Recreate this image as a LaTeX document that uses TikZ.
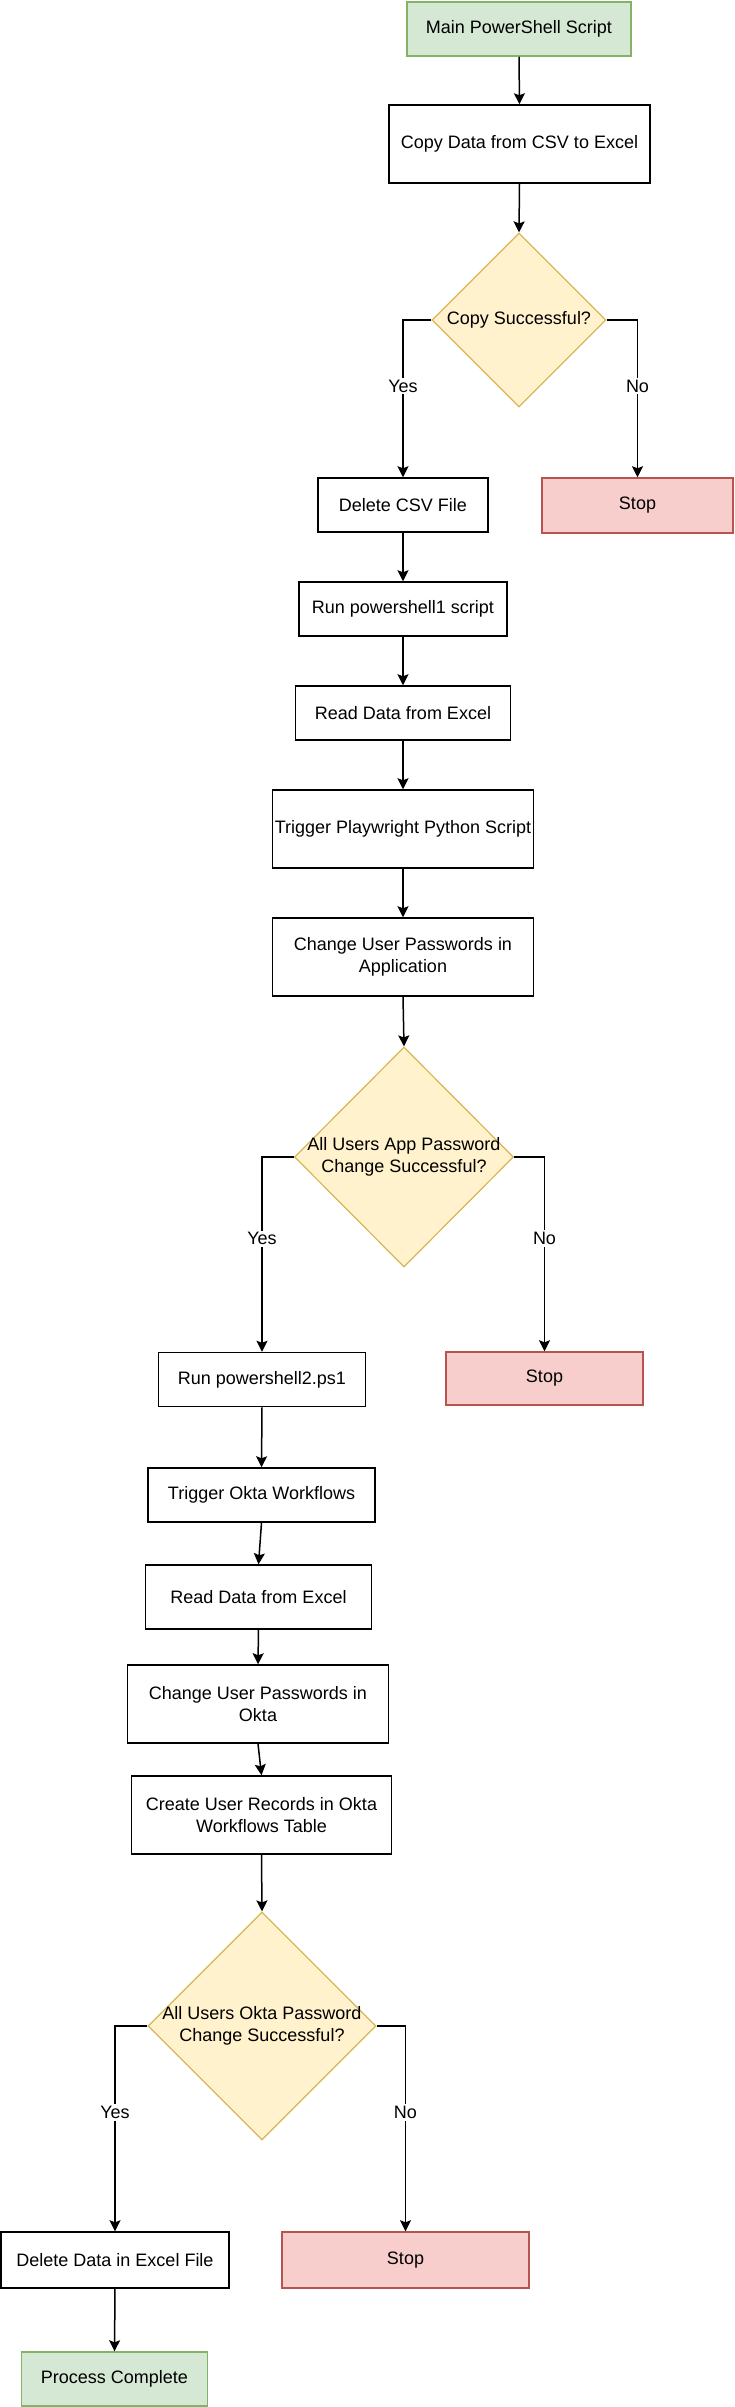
\documentclass[tikz,border=0pt]{standalone}
\usepackage{fontspec}
\setmainfont{Liberation Sans}
\usetikzlibrary{arrows.meta,shapes.geometric}
\definecolor{okfill}{HTML}{D5E8D4}
\definecolor{okline}{HTML}{82B366}
\definecolor{askfill}{HTML}{FFF2CC}
\definecolor{askline}{HTML}{D6B656}
\definecolor{stopfill}{HTML}{F8CECC}
\definecolor{stopline}{HTML}{B85450}

\begin{document}
\begin{tikzpicture}[x=1pt, y=-1pt,
		font=\fontsize{18}{21.6}\selectfont,
		proc/.style={draw=black, line width=1.5pt, fill=white, align=center, inner sep=0pt},
		okbox/.style={proc, draw=okline, fill=okfill},
		stopbox/.style={proc, draw=stopline, fill=stopfill},
		decide/.style={diamond, draw=askline, fill=askfill, line width=1.2pt, inner sep=0pt},
		dtext/.style={align=center, inner sep=0pt},
		flow/.style={line width=1.5pt, -{Stealth[length=11pt, width=11pt, inset=2pt]}},
		lbl/.style={fill=white, inner sep=2pt, pos=0.71}]
			%%%%% START %%%%%
			\useasboundingbox (0, 0) rectangle (735, 2407);
			
			\node[okbox, minimum width=224pt, minimum height=54pt] (main) at (519, 29) {Main PowerShell Script};
			\node[proc, minimum width=261pt, minimum height=78pt] (copy) at (519.5, 144) {Copy Data from CSV to Excel};
			
			\node[decide, minimum width=174pt, minimum height=174pt] (ask1) at (519, 320) {};
			\node[dtext] (ask1t) at (ask1) {Copy Successful?};
			
			\node[proc, minimum width=170pt, minimum height=54pt] (delcsv) at (403, 505) {Delete CSV File};
			\node[stopbox, minimum width=191pt, minimum height=55pt] (stop1) at (637.5, 505.5) {Stop};
			
			\node[proc, minimum width=208pt, minimum height=54pt] (runps1) at (403, 609) {Run powershell1 script};
			\node[proc, minimum width=215pt, minimum height=54pt] (read1) at (403, 713) {Read Data from Excel};
			\node[proc, minimum width=261pt, minimum height=78pt] (trigpw) at (403, 829) {Trigger Playwright Python Script};
			\node[proc, minimum width=261pt, minimum height=78pt] (chgapp) at (403, 957) {Change User Passwords in\\Application};
			
			\node[decide, minimum width=219pt, minimum height=220pt] (ask2) at (404, 1157) {};
			\node[dtext] (ask2t) at (ask2) {All Users App Password\\Change Successful?};
			
			\node[proc, minimum width=207pt, minimum height=54pt] (runps2) at (262, 1379.5) {Run powershell2.ps1};
			\node[stopbox, minimum width=197pt, minimum height=53pt] (stop2) at (544.5, 1378.5) {Stop};
			
			\node[proc, minimum width=227pt, minimum height=54pt] (trigokta) at (261.5, 1495) {Trigger Okta Workflows};
			\node[proc, minimum width=226pt, minimum height=64pt] (read2) at (258.5, 1597) {Read Data from Excel};
			\node[proc, minimum width=261pt, minimum height=78pt] (chgokta) at (258, 1704) {Change User Passwords in\\Okta};
			\node[proc, minimum width=260pt, minimum height=78pt] (records) at (261.5, 1815) {Create User Records in Okta\\Workflows Table};
			
			\node[decide, minimum width=228pt, minimum height=228pt] (ask3) at (262, 2026) {};
			\node[dtext] (ask3t) at (ask3) {All Users Okta Password\\Change Successful?};
			
			\node[proc, minimum width=228pt, minimum height=56pt] (deldata) at (115, 2260) {Delete Data in Excel File};
			\node[stopbox, minimum width=247pt, minimum height=56pt] (stop3) at (405.5, 2260) {Stop};
			\node[okbox, minimum width=186pt, minimum height=54pt] (done) at (114.5, 2379) {Process Complete};
			
			% straight steps
			\draw[flow] (main.south) -- (copy.north);
			\draw[flow] (copy.south) -- (ask1.north);
			\draw[flow] (delcsv.south) -- (runps1.north);
			\draw[flow] (runps1.south) -- (read1.north);
			\draw[flow] (read1.south) -- (trigpw.north);
			\draw[flow] (trigpw.south) -- (chgapp.north);
			\draw[flow] (chgapp.south) -- (ask2.north);
			\draw[flow] (runps2.south) -- (trigokta.north);
			\draw[flow] (trigokta.south) -- (read2.north);
			\draw[flow] (read2.south) -- (chgokta.north);
			\draw[flow] (chgokta.south) -- (records.north);
			\draw[flow] (records.south) -- (ask3.north);
			\draw[flow] (deldata.south) -- (done.north);
			
			% branches
			\draw[flow] (ask1.west) -| node[lbl] {Yes} (delcsv.north);
			\draw[flow] (ask1.east) -| node[lbl] {No} (stop1.north);
			\draw[flow] (ask2.west) -| node[lbl] {Yes} (runps2.north);
			\draw[flow] (ask2.east) -| node[lbl] {No} (stop2.north);
			\draw[flow] (ask3.west) -| node[lbl] {Yes} (deldata.north);
			\draw[flow] (ask3.east) -| node[lbl] {No} (stop3.north);
			
			%%%%% END %%%%%
\end{tikzpicture}
\end{document}
